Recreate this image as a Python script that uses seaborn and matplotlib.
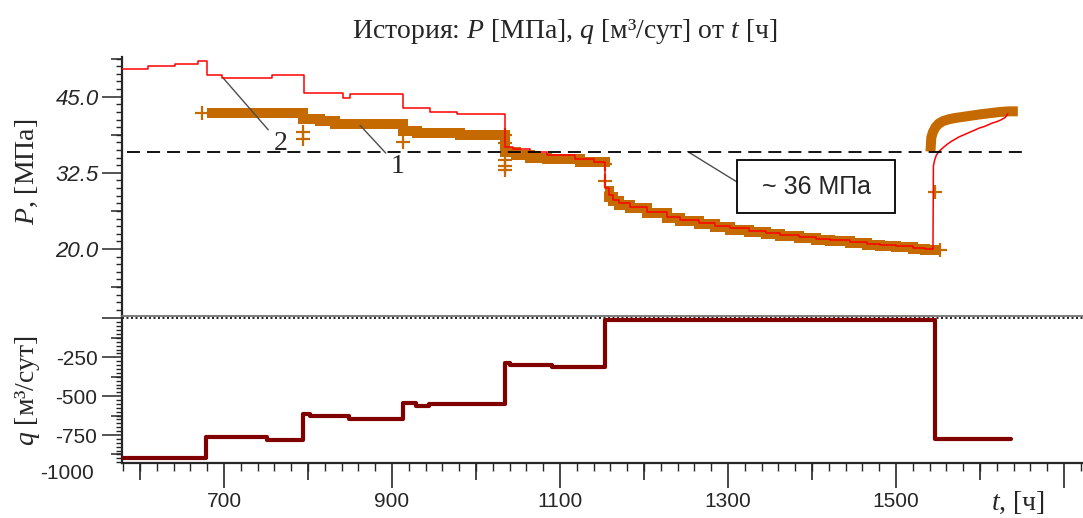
import numpy as np
import pandas as pd
import matplotlib
matplotlib.use("Agg")
import matplotlib.pyplot as plt
from matplotlib.patches import Rectangle
from matplotlib.ticker import MultipleLocator, NullLocator
import seaborn as sns

# ---------------- data ----------------
# model pressure, MPa (red line) - stepped part
model_t = [578, 609, 642, 669, 680, 698, 757, 795, 842, 850, 913, 945, 977,
           1034, 1044, 1064, 1084, 1118, 1140,
           1154, 1158, 1163, 1170, 1183, 1203, 1227, 1243, 1265, 1285, 1302,
           1325, 1345, 1362, 1385, 1405, 1421, 1445, 1465, 1481, 1500, 1520, 1535, 1544]
model_P = [49.5, 50.0, 50.4, 50.8, 48.6, 48.1, 48.5, 45.6, 44.8, 45.4, 43.1, 42.5, 42.1,
           36.8, 36.4, 35.9, 35.4, 34.8, 34.3,
           30.0, 28.8, 28.1, 27.5, 26.9, 26.1, 25.3, 24.8, 24.3, 23.8, 23.4,
           23.0, 22.6, 22.3, 22.0, 21.7, 21.5, 21.2, 20.9, 20.7, 20.5, 20.2, 20.0, 20.0]
# model pressure after shut-in (red recovery curve)
recov_t = [1544, 1544.5, 1546, 1548, 1551, 1555, 1560, 1565, 1570, 1575, 1580, 1585,
           1590, 1595, 1600, 1605, 1610, 1615, 1620, 1625, 1630, 1633]
recov_P = [20.0, 33.6, 34.6, 35.4, 36.0, 36.5, 37.1, 37.6, 38.0, 38.4, 38.7, 39.0,
           39.3, 39.6, 39.9, 40.1, 40.4, 40.7, 40.9, 41.2, 41.6, 42.2]

# measured pressure, MPa (brown band), three pieces
meas1_t = [680, 794, 814, 832, 913, 930, 981, 1034, 1048, 1064, 1084, 1124, 1160]
meas1_P = [42.3, 41.4, 41.0, 40.6, 39.3, 39.0, 38.7, 35.9, 35.5, 35.0, 34.7, 34.3, 34.3]
meas2_t = [1154, 1158, 1163, 1170, 1183, 1203, 1227, 1243, 1265, 1285, 1302, 1325,
           1345, 1362, 1385, 1405, 1421, 1445, 1465, 1481, 1500, 1520, 1535, 1552]
meas2_P = [29.6, 28.5, 27.8, 27.3, 26.7, 25.9, 25.1, 24.6, 24.1, 23.6, 23.2, 22.8,
           22.4, 22.1, 21.8, 21.5, 21.3, 21.0, 20.7, 20.5, 20.3, 20.0, 19.8, 19.8]
meas3_t = [1541, 1542, 1544, 1547, 1551, 1556, 1563, 1570, 1580, 1590, 1600, 1612, 1624, 1635, 1645]
meas3_P = [36.0, 38.3, 39.2, 40.0, 40.6, 41.0, 41.3, 41.5, 41.7, 41.9, 42.1, 42.3, 42.5, 42.6, 42.6]

# isolated measured points (+ markers)
out_t = [674, 794, 794, 913, 1034, 1034, 1034, 1034, 1034, 1154, 1154, 1546, 1552]
out_P = [42.3, 39.2, 38.0, 37.6, 38.7, 37.4, 34.6, 33.6, 33.0, 34.0, 31.1, 29.3, 19.9]

# ~36 MPa threshold
thr_t = [585, 1651]
thr_P = [36.0, 36.0]

# rate, m3/day (lower panel)
rate_t = [578, 678, 751, 794, 802, 849, 913, 929, 944, 1034, 1040, 1091, 1154, 1546, 1637]
rate_q = [-900, -765, -780, -615, -630, -650, -547, -564, -551, -288, -300, -310, -10, -775, -775]

x_major = [700, 900, 1100, 1300, 1500, 1700]
x_major_labels = ["700", "900", "1100", "1300", "1500", ""]
x_mid = [600, 800, 1000, 1200, 1400, 1600]
p_major = [20.0, 32.5, 45.0]
p_major_labels = ["20.0", "32.5", "45.0"]
p_mid = [13.75, 26.25, 38.75, 51.25]
q_major = [0, -250, -500, -750]
q_major_labels = ["", "-250", "-500", "-750"]
q_mid = [-125, -375, -625, -875]

# ---------------- style ----------------
sns.set_style("ticks")
plt.rcParams.update({
    "font.family": ["Liberation Sans", "DejaVu Sans"],
    "mathtext.fontset": "custom",
    "mathtext.rm": "Liberation Serif",
    "mathtext.it": "Liberation Serif:italic",
    "axes.linewidth": 1.5,
})
BROWN = "#c46a00"
RED = "#ff0000"
QCOL = "#800000"
SERIF = ["Liberation Serif", "DejaVu Serif"]

W, H = 1083, 518
fig = plt.figure(figsize=(W / 100, H / 100), dpi=100)
L = 121.7 / W
ax1 = fig.add_axes([L, (H - 316) / H, 1 - L, (316 - 57) / H])
ax2 = fig.add_axes([L, (H - 463.3) / H, 1 - L, (463.3 - 316) / H])

xlim = (578.2, 1722.6)

# ---------------- upper panel ----------------
meas = pd.concat([
    pd.DataFrame({"t": meas1_t, "P": meas1_P, "seg": 1}),
    pd.DataFrame({"t": meas2_t, "P": meas2_P, "seg": 2}),
])
sns.lineplot(data=meas, x="t", y="P", units="seg", estimator=None, sort=False,
             color=BROWN, lw=7.2, drawstyle="steps-post",
             solid_joinstyle="miter", solid_capstyle="butt", ax=ax1, zorder=2)
sns.lineplot(x=meas3_t, y=meas3_P, estimator=None, sort=False, color=BROWN, lw=7.2,
             solid_joinstyle="round", solid_capstyle="butt", ax=ax1, zorder=2)
sns.scatterplot(x=out_t, y=out_P, marker="+", s=110, color=BROWN,
                linewidth=1.6, ax=ax1, zorder=3)
model = pd.DataFrame({"t": model_t, "P": model_P})
sns.lineplot(data=model, x="t", y="P", estimator=None, sort=False, color=RED,
             lw=1.1, drawstyle="steps-post", ax=ax1, zorder=4)
sns.lineplot(x=recov_t, y=recov_P, estimator=None, sort=False, color=RED,
             lw=1.1, ax=ax1, zorder=4)
ax1.plot(thr_t, thr_P, color="black", lw=1.3, dashes=(7.2, 3.9), zorder=5)

ax1.set_xlim(*xlim)
ax1.set_ylim(9.0, 51.52)
ax1.set_xlabel("")
ax1.set_ylabel("")
for s in ["top", "right", "bottom"]:
    ax1.spines[s].set_visible(False)
ax1.spines["left"].set_linewidth(1.6)
ax1.set_xticks([])
ax1.set_yticks(p_major)
ax1.set_yticklabels(p_major_labels, fontsize=16, style="italic")
ax1.yaxis.set_minor_locator(MultipleLocator(1.25))
ax1.tick_params(axis="y", which="major", length=14.5, width=1.1, pad=2, direction="out")
ax1.tick_params(axis="y", which="minor", length=4.3, width=1.0, direction="out")
sec1 = ax1.secondary_yaxis("left")
sec1.set_yticks(p_mid)
sec1.tick_params(axis="y", length=8, width=1.1, labelleft=False, direction="out")
sec1.yaxis.set_minor_locator(NullLocator())
sec1.spines["left"].set_visible(False)

# annotations
ax1.annotate("2", xy=(698.8, 48.1), xytext=(767, 37.3), fontsize=20, family=SERIF,
             ha="center", va="center",
             arrowprops=dict(arrowstyle="-", color="0.3", lw=1.0, shrinkA=2, shrinkB=0))
ax1.annotate("1", xy=(862, 40.3), xytext=(907, 33.6), fontsize=20, family=SERIF,
             ha="center", va="center",
             arrowprops=dict(arrowstyle="-", color="0.3", lw=1.0, shrinkA=2, shrinkB=0))
ax1.add_patch(Rectangle((1310.7, 25.9), 188.1, 8.7, fill=True, fc="white",
                        ec="black", lw=1.3, zorder=6))
ax1.annotate("", xy=(1252, 36.0), xytext=(1310.7, 31.0),
             arrowprops=dict(arrowstyle="-", color="0.3", lw=1.0, shrinkA=0, shrinkB=0))
ax1.text(1404.8, 30.2, "~ 36 МПа", fontsize=18, ha="center", va="center", zorder=7)

# ---------------- lower panel ----------------
ax2.axhline(0, color="black", lw=1.2, ls=(0, (1.2, 1.5)), zorder=1)
sns.lineplot(x=rate_t, y=rate_q, estimator=None, sort=False, color=QCOL, lw=3.0,
             drawstyle="steps-post", ax=ax2, zorder=3)
ax2.set_xlim(*xlim)
ax2.set_ylim(-932, 16)
ax2.set_xlabel("")
ax2.set_ylabel("")
ax2.spines["right"].set_visible(False)
ax2.spines["top"].set_color("0.45")
ax2.spines["top"].set_linewidth(1.3)
ax2.spines["left"].set_linewidth(1.6)
ax2.spines["bottom"].set_linewidth(1.6)

ax2.set_xticks(x_major)
ax2.set_xticklabels(x_major_labels, fontsize=15)
ax2.xaxis.set_minor_locator(MultipleLocator(20))
ax2.tick_params(axis="x", which="major", length=18, width=1.2, pad=3, direction="out")
ax2.tick_params(axis="x", which="minor", length=6, width=1.0, direction="out")
sec2x = ax2.secondary_xaxis("bottom")
sec2x.set_xticks(x_mid)
sec2x.tick_params(axis="x", length=12, width=1.2, labelbottom=False, direction="out")
sec2x.xaxis.set_minor_locator(NullLocator())
sec2x.spines["bottom"].set_visible(False)

ax2.set_yticks(q_major)
ax2.set_yticklabels(q_major_labels, fontsize=15)
ax2.yaxis.set_minor_locator(MultipleLocator(25))
ax2.tick_params(axis="y", which="major", length=14.5, width=1.1, pad=3, direction="out")
ax2.tick_params(axis="y", which="minor", length=4.3, width=1.0, direction="out")
sec2y = ax2.secondary_yaxis("left")
sec2y.set_yticks(q_mid)
sec2y.tick_params(axis="y", length=8, width=1.1, labelleft=False, direction="out")
sec2y.yaxis.set_minor_locator(NullLocator())
sec2y.spines["left"].set_visible(False)
ax2.text(-0.029, -1000, "-1000", transform=ax2.get_yaxis_transform(),
         ha="right", va="center", fontsize=15, clip_on=False)

# ---------------- titles / labels ----------------
fig.text(565 / W, 1 - 31 / H, "История: $P$ [МПа], $q$ [м³/сут] от $t$ [ч]",
         ha="center", va="center", fontsize=20, family=SERIF)
fig.text(27 / W, 1 - 172 / H, "$P$, [МПа]", rotation=90, ha="center", va="center",
         fontsize=20, family=SERIF)
fig.text(28 / W, 1 - 390 / H, "$q$ [м³/сут]", rotation=90, ha="center", va="center",
         fontsize=20, family=SERIF)
fig.text(1018 / W, 1 - 503 / H, "$t$, [ч]", ha="center", va="center",
         fontsize=20, family=SERIF)

fig.savefig("out.png", dpi=100)
